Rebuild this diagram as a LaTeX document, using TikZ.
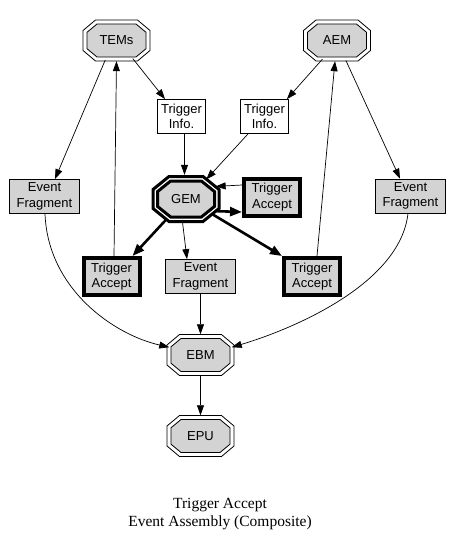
\documentclass[tikz,border=0pt]{standalone}
\usepackage{fontspec}
\setmainfont{Liberation Serif}
\newfontfamily\arialf{Liberation Sans}
\usetikzlibrary{arrows.meta,shapes.geometric,backgrounds}
\definecolor{lgray}{RGB}{211,211,211}
% #1 node, #2 half width, #3 half height, #4 half top edge, #5 half side edge, #6 style
\newcommand\myoct[6]{%
 \draw[#6] ([shift={(-#4,-#3)}]#1.center) -- ([shift={(#4,-#3)}]#1.center) -- ([shift={(#2,-#5)}]#1.center) -- ([shift={(#2,#5)}]#1.center) -- ([shift={(#4,#3)}]#1.center) -- ([shift={(-#4,#3)}]#1.center) -- ([shift={(-#2,#5)}]#1.center) -- ([shift={(-#2,-#5)}]#1.center) -- cycle;}
\newcommand\dbloct[1]{%
 \myoct{#1}{33.5}{20.5}{21}{10}{line width=0.8pt,fill=white}%
 \myoct{#1}{29.5}{16.5}{19.5}{8.2}{line width=0.8pt,fill=lgray}}
\begin{document}
\begin{tikzpicture}[x=1pt,y=-1pt,
  nfont/.style={font=\arialf\fontsize{13}{15.3}\selectfont},
  octn/.style={nfont,ellipse,draw=none,inner sep=0pt,minimum width=67pt,minimum height=41pt},
  box/.style={nfont,rectangle,draw,line width=0.8pt,fill=lgray,inner sep=0pt,align=center,minimum width=70pt,minimum height=34pt},
  ibox/.style={box,fill=white,minimum width=48pt},
  tabox/.style={box,line width=4pt,minimum width=56pt,minimum height=37pt},
  e/.style={draw,line width=0.7pt,-{Triangle[length=10pt,width=7pt]}},
  te/.style={draw,line width=2.6pt,-{Triangle[length=12pt,width=9pt]}}]
\useasboundingbox (0,0) rectangle (452,547);
\node[octn] (TEMs) at (116.5,40.5) {TEMs};
\node[octn] (AEM) at (337,40.5) {AEM};
\node[ibox] (TIl) at (181.5,116.5) {Trigger\\Info.};
\node[ibox] (TIr) at (264.5,116.5) {Trigger\\Info.};
\node[octn,minimum width=69pt,minimum height=48pt] (GEM) at (186,199) {GEM};
\node[tabox] (TAt) at (272,197) {Trigger\\Accept};
\node[box] (EFl) at (44.5,196.5) {Event\\Fragment};
\node[box] (EFr) at (410.5,196) {Event\\Fragment};
\node[tabox] (TAl) at (111.5,276.5) {Trigger\\Accept};
\node[box] (EFm) at (200.5,276.5) {Event\\Fragment};
\node[tabox] (TAr) at (312,276.5) {Trigger\\Accept};
\node[octn] (EBM) at (200.5,355) {EBM};
\node[octn] (EPU) at (200.5,436) {EPU};
\node[align=center,font=\fontsize{15.5}{18}\selectfont] (cap) at (220,514) {Trigger Accept\\Event Assembly (Composite)};
\begin{scope}[on background layer]
 \dbloct{TEMs}
 \dbloct{AEM}
 \dbloct{EBM}
 \dbloct{EPU}
 \myoct{GEM}{33}{22.5}{17}{9.5}{line width=3pt,fill=white}
 \myoct{GEM}{28.5}{18}{15.4}{7.4}{line width=3pt,fill=lgray}
\end{scope}
% edges
\draw[e] (TEMs.240) -- ([xshift=10.5pt]EFl.north);
\draw[e] (TEMs.-48) -- ([xshift=-16.5pt]TIl.north);
\draw[e] ([xshift=2.5pt]TAl.north) -- (TEMs.south);
\draw[e] (AEM.232) -- ([xshift=-2pt]TIr.north east);
\draw[e] (AEM.-66) -- ([xshift=-10.5pt]EFr.north);
\draw[e] ([xshift=5pt]TAr.north) -- ([xshift=-2pt]AEM.south);
\draw[e] ([xshift=3pt]TIl.south) -- ([xshift=-1.5pt]GEM.north);
\draw[e] ([xshift=-16.5pt]TIr.south) -- (GEM.44);
\draw[e] ([yshift=12pt]TAt.west) -- (GEM.23);
\draw[te] (GEM.-22) -- ([yshift=-15pt]TAt.west);
\draw[te] (GEM.226) -- ([xshift=21pt]TAl.north);
\draw[e] (GEM.262) -- ([xshift=-13.5pt]EFm.north);
\draw[te] (GEM.-30) -- (TAr.north west);
\draw[e] ([xshift=0.5pt]EFl.south) .. controls (48,290) and (115,335) .. (EBM.166);
\draw[e] (EFm.south) -- (EBM.north);
\draw[e] ([xshift=-2.5pt]EFr.south) .. controls (400,285) and (290,330) .. (EBM.14);
\draw[e] (EBM.south) -- (EPU.north);
\end{tikzpicture}
\end{document}
